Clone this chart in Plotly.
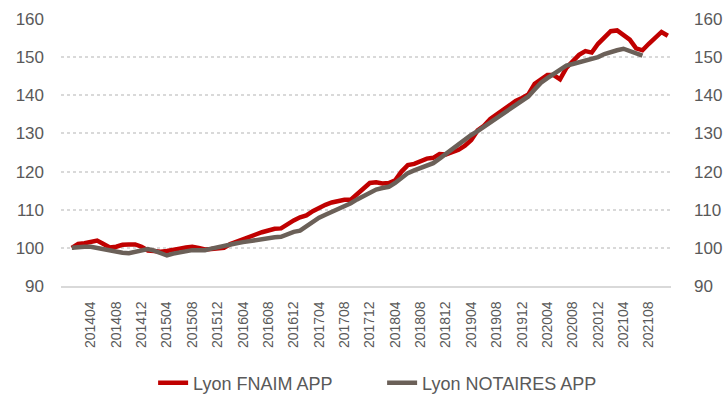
import plotly.graph_objects as go

# Monthly categories 201401 .. 202111
months = [f"{y}{m:02d}" for y in range(2014, 2022) for m in range(1, 13)][:95]

fnaim = [
    100.0, 101.0, 101.2, 101.5, 101.9, 101.0, 100.1, 100.3, 100.8, 100.9, 100.9, 100.3,  # 2014
    99.3, 99.2, 99.0, 99.2, 99.4, 99.8, 100.1, 100.3, 100.0, 99.6, 99.7, 99.9,            # 2015
    100.0, 101.0, 101.7, 102.3, 103.0, 103.5, 104.1, 104.6, 105.0, 105.1, 106.3, 107.2,   # 2016
    108.0, 108.5, 109.6, 110.5, 111.3, 111.9, 112.3, 112.6, 112.6, 114.0, 115.5, 117.0,   # 2017
    117.2, 116.9, 117.0, 117.7, 120.0, 121.7, 122.0, 122.7, 123.4, 123.6, 124.6, 124.5,   # 2018
    125.2, 125.7, 126.8, 128.3, 130.8, 132.0, 133.8, 135.0, 136.3, 137.6, 138.5, 139.3,   # 2019
    140.2, 143.0, 144.3, 145.3, 145.3, 144.2, 147.2, 148.9, 150.6, 151.6, 151.2, 153.5,   # 2020
    155.0, 156.8, 157.0, 155.8, 154.6, 152.3, 151.8, 153.5, 155.2, 156.6, 155.6,          # 2021
]

notaires = [
    100.0, 100.2, 100.3, 100.3, 100.0, 99.6, 99.1, 98.9, 98.7, 98.6, 99.0, 99.5,          # 2014
    99.7, 99.3, 98.6, 98.0, 98.5, 98.9, 99.3, 99.4, 99.4, 99.4, 99.8, 100.2,              # 2015
    100.6, 100.9, 101.2, 101.5, 101.8, 102.0, 102.3, 102.5, 102.8, 102.9, 103.6, 104.2,   # 2016
    104.5, 105.7, 106.9, 107.9, 108.7, 109.4, 110.0, 110.8, 111.7, 112.7, 113.6, 114.5,   # 2017
    115.3, 115.7, 116.0, 117.0, 118.4, 119.6, 120.3, 120.9, 121.5, 122.2, 123.4, 124.7,   # 2018
    125.8, 127.1, 128.4, 129.6, 130.6, 131.7, 132.9, 134.1, 135.3, 136.3, 137.4, 138.5,   # 2019
    139.7, 141.5, 143.3, 144.5, 145.6, 147.0, 147.8, 148.2, 148.6, 149.0, 149.4, 150.0,   # 2020
    150.8, 151.4, 151.8, 152.2, 151.6, 151.0, 150.4,                                      # 2021
]

tick_labels = ["201404", "201408", "201412", "201504", "201508", "201512",
               "201604", "201608", "201612", "201704", "201708", "201712",
               "201804", "201808", "201812", "201904", "201908", "201912",
               "202004", "202008", "202012", "202104", "202108"]
y_ticks = [90, 100, 110, 120, 130, 140, 150, 160]

series_names = ["Lyon FNAIM APP", "Lyon NOTAIRES APP"]
colors = ["#C00000", "#6B6058"]

FONT = "Liberation Sans"
TXT = "#595959"

fig = go.Figure()
fig.add_trace(go.Scatter(
    x=months[:len(fnaim)], y=fnaim, name=series_names[0], mode="lines",
    line=dict(color=colors[0], width=4.5), yaxis="y"))
fig.add_trace(go.Scatter(
    x=months[:len(notaires)], y=notaires, name=series_names[1], mode="lines",
    line=dict(color=colors[1], width=4.5), yaxis="y2"))

fig.update_layout(
    width=727, height=404,
    margin=dict(l=61, r=56, t=19, b=118),
    paper_bgcolor="white", plot_bgcolor="white",
    font=dict(family=FONT, color=TXT),
    xaxis=dict(
        type="category", categoryorder="array", categoryarray=months,
        range=[-1.7, 94.5], automargin=False,
        tickmode="array", tickvals=tick_labels, ticktext=tick_labels,
        tickangle=-90, tickfont=dict(size=14, color=TXT, family=FONT),
        showgrid=False, zeroline=False,
        showline=True, linecolor="#D9D9D9", linewidth=1.5,
        ticks="", ticklabelstandoff=8,
    ),
    yaxis=dict(
        range=[90, 160], tickmode="array", tickvals=y_ticks, automargin=False,
        tickfont=dict(size=17, color=TXT, family=FONT),
        showgrid=True, gridcolor="#D9D9D9", gridwidth=1.5, griddash="dot",
        zeroline=False, showline=False, ticks="", ticklabelstandoff=16,
    ),
    yaxis2=dict(
        range=[90, 160], tickmode="array", tickvals=y_ticks, automargin=False,
        overlaying="y", side="right",
        tickfont=dict(size=17, color=TXT, family=FONT),
        showgrid=False, zeroline=False, showline=False, ticks="",
        ticklabelstandoff=22,
    ),
    legend=dict(
        orientation="h", x=0.151, xanchor="left",
        yref="container", y=1 - 383 / 404, yanchor="middle",
        font=dict(size=18, color=TXT, family=FONT),
        entrywidth=184, entrywidthmode="pixels",
        bgcolor="rgba(0,0,0,0)",
    ),
    showlegend=True,
)

fig.write_html("out.html", config={"displayModeBar": False},
               post_script="document.body.style.margin='0';")
